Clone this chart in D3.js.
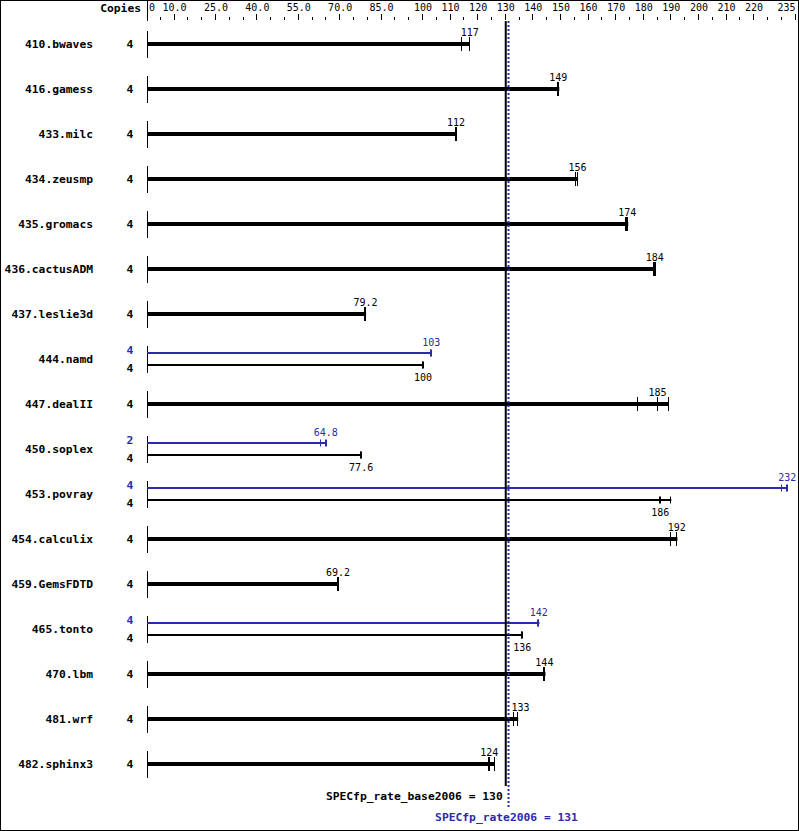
<!DOCTYPE html>
<html><head><meta charset="utf-8">
<script src="https://cdn.jsdelivr.net/npm/d3@7"></script>
<style>body{margin:0;background:#fff}svg{display:block}</style>
</head><body>
<script>
const benchmarks = ["410.bwaves","416.gamess","433.milc","434.zeusmp","435.gromacs","436.cactusADM","437.leslie3d","444.namd","447.dealII","450.soplex","453.povray","454.calculix","459.GemsFDTD","465.tonto","470.lbm","481.wrf","482.sphinx3"];
const baseCopies = [4,4,4,4,4,4,4,4,4,4,4,4,4,4,4,4,4];
const baseValues = [117,149,112,156,174,184,79.2,100,185,77.6,186,192,69.2,136,144,133,124];
const baseRuns = [[114.2,117,117],[148.8,149,149.4],[112,112.3,112.3],[155.4,156.2,156.2],[173.7,174,174.4],[183.8,184,184.3],[79.1,79.2,79.4],[100,100,100.2],[178,185,189],[77.6,77.6,77.8],[186,186.3,190],[190,192,192.2],[69.2,69.2,69.4],[136,136,136.2],[144,144.4,144.4],[133,133,134.5],[124,124.2,126]];
const peakCopies = [null,null,null,null,null,null,null,4,null,2,4,null,null,4,null,null,null];
const peakValues = [null,null,null,null,null,null,null,103,null,64.8,232,null,null,142,null,null,null];
const peakRuns = [null,null,null,null,null,null,null,[103,103,103.2],null,[62.9,64.8,65.1],[230,232,232.3],null,null,[141.6,142,142.2],null,null,null];
const tickLabelValues = [0,10,25,40,55,70,85,100,110,120,130,140,150,160,170,180,190,200,210,220,235];
const tickLabels = ["0","10.0","25.0","40.0","55.0","70.0","85.0","100","110","120","130","140","150","160","170","180","190","200","210","220","235"];
const baseMean = 130, peakMean = 131;
const baseMeanLabel = "SPECfp_rate_base2006 = 130";
const peakMeanLabel = "SPECfp_rate2006 = 131";

const W = 799, H = 831;
const BLUE = "#2a2aaa";
const MONO = "'DejaVu Sans Mono', 'Liberation Mono', monospace";
const svg = d3.select("body").append("svg").attr("width", W).attr("height", H);
svg.append("rect").attr("x",0.5).attr("y",0.5).attr("width",W-1).attr("height",H-1).attr("fill","#fff").attr("stroke","#000");

const x = d3.scaleLinear().domain([0,235]).range([147,795.5]);
const y = d3.scalePoint().domain(benchmarks).range([44,764]);

// top axis
svg.append("text").attr("x",141).attr("y",12).attr("text-anchor","end")
  .attr("font-family",MONO).attr("font-weight","bold").attr("font-size","11.3px").text("Copies");
svg.append("line").attr("x1",147.5).attr("x2",147.5).attr("y1",0).attr("y2",21).attr("stroke","#000");
d3.range(5,236,5).forEach(v=>{
  const major = tickLabelValues.includes(v);
  const xx = Math.round(x(v))-0.5;
  svg.append("line").attr("x1",xx).attr("x2",xx).attr("y1",major?14:17).attr("y2",20).attr("stroke","#000");
});
tickLabelValues.forEach((v,i)=>{
  const anchor = i===0 ? "start" : (i===tickLabelValues.length-1 ? "end" : "middle");
  svg.append("text").attr("x", i===0 ? x(v)+2 : x(v)).attr("y",11).attr("text-anchor",anchor)
    .attr("font-family",MONO).attr("font-size","10px").text(tickLabels[i]);
});

const lo = x(baseMean)-2, hi = x(peakMean)+2;
function placeLabel(cx, w){ let s = cx - w/2; if (s < hi && s + w > lo) s = hi + 1; return s; }

benchmarks.forEach((b,i)=>{
  const cy = y(b);
  svg.append("text").attr("x",93).attr("y",cy+4).attr("text-anchor","end")
    .attr("font-family",MONO).attr("font-weight","bold").attr("font-size","11.3px").text(b);
  svg.append("line").attr("x1",147.5).attr("x2",147.5).attr("y1",cy-13).attr("y2",cy+14).attr("stroke","#000");
  const split = peakValues[i] !== null;
  if (!split) {
    svg.append("text").attr("x",130).attr("y",cy+4).attr("text-anchor","middle")
      .attr("font-family",MONO).attr("font-weight","bold").attr("font-size","11.3px").text(baseCopies[i]);
    const mx = d3.max(baseRuns[i]);
    svg.append("rect").attr("x",x(0)).attr("y",cy-2).attr("width",x(mx)-x(0)).attr("height",4).attr("fill","#000");
    baseRuns[i].forEach(r=>{
      const xx = Math.round(x(r))-0.5;
      svg.append("line").attr("x1",xx).attr("x2",xx).attr("y1",cy-7).attr("y2",cy+7).attr("stroke","#000");
    });
    const lbl = String(baseValues[i]); const w = lbl.length*6.02;
    svg.append("text").attr("x",placeLabel(x(baseValues[i]),w)).attr("y",cy-8)
      .attr("font-family",MONO).attr("font-size","10px").text(lbl);
  } else {
    const py = cy-6, by = cy+6;
    svg.append("text").attr("x",130).attr("y",cy-9+4).attr("text-anchor","middle").attr("fill",BLUE)
      .attr("font-family",MONO).attr("font-weight","bold").attr("font-size","11.3px").text(peakCopies[i]);
    svg.append("text").attr("x",130).attr("y",cy+9+4).attr("text-anchor","middle")
      .attr("font-family",MONO).attr("font-weight","bold").attr("font-size","11.3px").text(baseCopies[i]);
    [[peakRuns[i],peakValues[i],py,BLUE,true],[baseRuns[i],baseValues[i],by,"#000",false]].forEach(([runs,val,yy,col,above])=>{
      const mx = d3.max(runs);
      svg.append("rect").attr("x",x(0)).attr("y",yy-1).attr("width",x(mx)-x(0)).attr("height",2).attr("fill",col);
      runs.forEach(r=>{
        const xx = Math.round(x(r))-0.5;
        svg.append("line").attr("x1",xx).attr("x2",xx).attr("y1",yy-3.5).attr("y2",yy+3.5).attr("stroke",col);
      });
      const lbl = String(val); const w = lbl.length*6.02;
      svg.append("text").attr("x",placeLabel(x(val),w)).attr("y",above?yy-7:yy+16).attr("fill",col)
        .attr("font-family",MONO).attr("font-size","10px").text(lbl);
    });
  }
});

// mean lines
svg.append("line").attr("x1",x(baseMean)).attr("x2",x(baseMean)).attr("y1",21).attr("y2",786)
  .attr("stroke","#000").attr("stroke-width",2);
svg.append("line").attr("x1",x(peakMean)).attr("x2",x(peakMean)).attr("y1",21).attr("y2",808)
  .attr("stroke",BLUE).attr("stroke-width",2).attr("stroke-dasharray","2,2");
svg.append("text").attr("x",x(baseMean)-3).attr("y",800).attr("text-anchor","end")
  .attr("font-family",MONO).attr("font-weight","bold").attr("font-size","11.3px").text(baseMeanLabel);
svg.append("text").attr("x",x(peakMean)-2).attr("y",821).attr("text-anchor","middle").attr("fill",BLUE)
  .attr("font-family",MONO).attr("font-weight","bold").attr("font-size","11.3px").text(peakMeanLabel);
</script>
</body></html>
